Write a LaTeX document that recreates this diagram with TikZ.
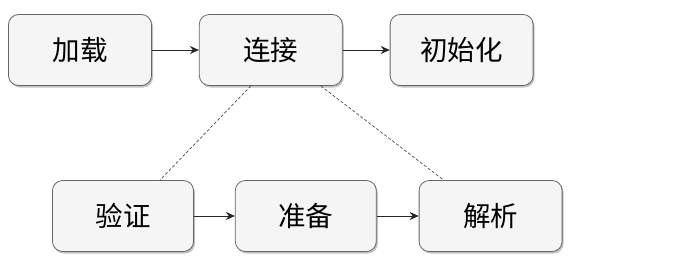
\documentclass[tikz,border=0pt]{standalone}
\usepackage{fontspec}
\setmainfont{Noto Sans CJK SC}
\usetikzlibrary{positioning,shadows,arrows.meta}
\tikzset{
	stage/.style={draw=black!60, fill=black!4, rounded corners=10pt,
		minimum width=143pt, minimum height=71pt, line width=0.8pt,
		drop shadow={shadow xshift=1.5pt, shadow yshift=-2pt, fill=black!40, opacity=.6},
		font=\fontsize{27.5}{30}\selectfont},
	flow/.style={-{Stealth[length=9pt,width=8pt]}, line width=0.8pt, draw=black!85},
	link/.style={densely dashed, draw=black!70, line width=0.7pt}
}
\begin{document}
\begin{tikzpicture}[x=1pt, y=-1pt]
	\useasboundingbox (0,0) rectangle (679,276);
	% main steps
	\node[stage] (jiazai) at (80,50) {加载};
	\node[stage, right=47pt of jiazai] (lianjie) {连接};
	\node[stage, right=47pt of lianjie] (chushihua) {初始化};
	% steps of linking
	\node[stage, minimum width=141pt] (yanzheng) at (123,216) {验证};
	\node[stage, minimum width=141pt, right=41pt of yanzheng] (zhunbei) {准备};
	\node[stage, right=42pt of zhunbei] (jiexi) {解析};
	\draw[flow] (jiazai) -- (lianjie);
	\draw[flow] (lianjie) -- (chushihua);
	\draw[flow] (yanzheng) -- (zhunbei);
	\draw[flow] (zhunbei) -- (jiexi);
	\draw[link] ([xshift=-20pt]lianjie.south) -- ([xshift=37pt]yanzheng.north);
	\draw[link] ([xshift=50pt]lianjie.south) -- ([xshift=-47pt]jiexi.north);
\end{tikzpicture}
\end{document}
